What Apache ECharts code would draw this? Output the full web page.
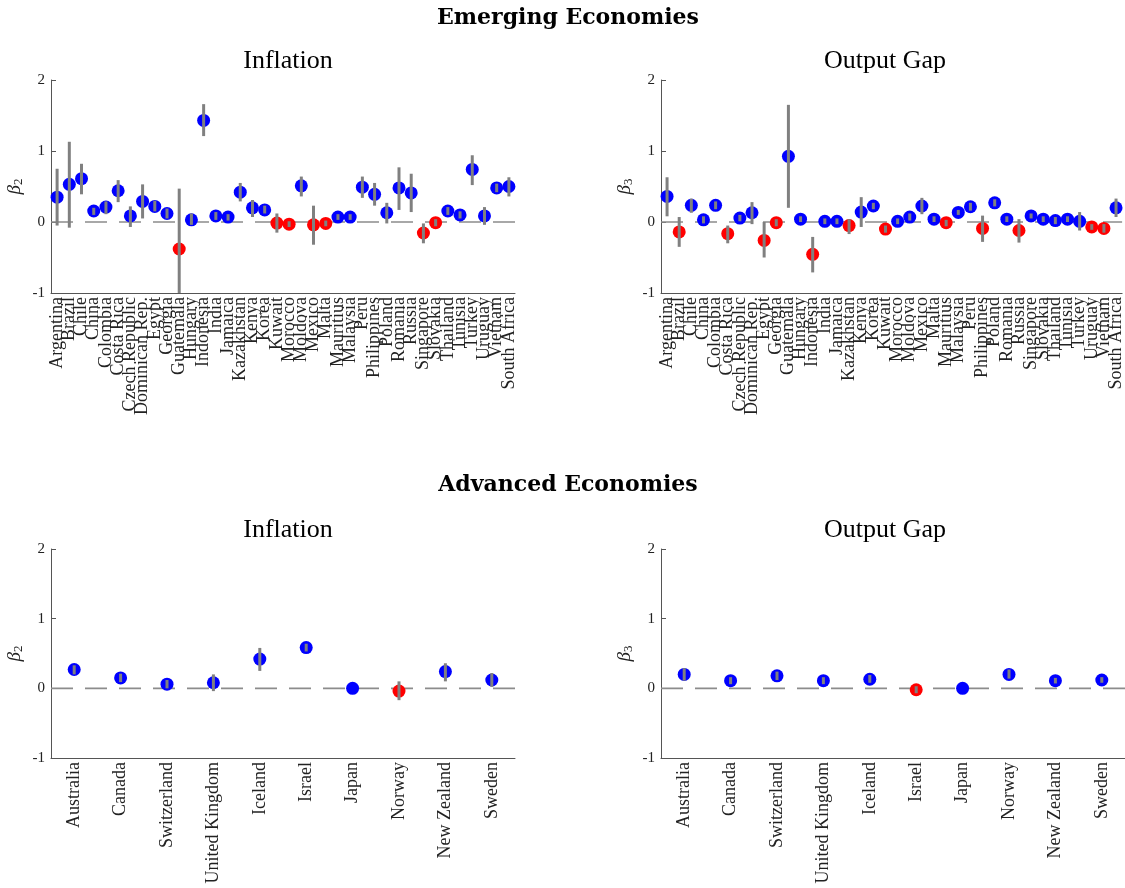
<!DOCTYPE html>
<html>
<head>
<meta charset="utf-8">
<script src="https://cdn.jsdelivr.net/npm/echarts@6/dist/echarts.min.js"></script>
<style>html,body{margin:0;padding:0;background:#fff;}#c{width:1125px;height:888px;}</style>
</head>
<body>
<div id="c"></div>
<script>
const emNames = ['Argentina','Brazil','Chile','China','Colombia','Costa Rica','Czech Republic','Dominican Rep.','Egypt','Georgia','Guatemala','Hungary','Indonesia','India','Jamaica','Kazakhstan','Kenya','Korea','Kuwait','Morocco','Moldova','Mexico','Malta','Mauritius','Malaysia','Peru','Philippines','Poland','Romania','Russia','Singapore','Slovakia','Thailand','Tunisia','Turkey','Uruguay','Vietnam','South Africa'];
const emInfl   = [0.35,0.53,0.61,0.155,0.21,0.44,0.085,0.29,0.22,0.12,-0.38,0.03,1.43,0.085,0.07,0.42,0.2,0.17,-0.015,-0.03,0.51,-0.04,-0.02,0.07,0.07,0.49,0.39,0.13,0.48,0.41,-0.155,-0.01,0.155,0.1,0.74,0.085,0.48,0.5];
const emInflLo = [-0.05,-0.08,0.39,0.1,0.11,0.28,-0.07,0.05,0.15,0.05,-1.0,-0.04,1.21,0.03,0.02,0.29,0.07,0.12,-0.15,-0.07,0.36,-0.32,-0.06,0.03,0.03,0.34,0.23,-0.02,0.17,0.14,-0.3,-0.06,0.1,0.05,0.52,-0.04,0.42,0.36];
const emInflHi = [0.75,1.13,0.82,0.2,0.29,0.59,0.22,0.53,0.3,0.19,0.47,0.12,1.66,0.14,0.11,0.55,0.31,0.23,0.12,0.01,0.64,0.23,0.02,0.11,0.11,0.64,0.55,0.27,0.77,0.68,-0.02,0.04,0.21,0.15,0.94,0.21,0.54,0.63];
const emGap    = [0.36,-0.14,0.235,0.03,0.235,-0.165,0.055,0.13,-0.26,-0.01,0.925,0.04,-0.455,0.01,0.01,-0.05,0.14,0.225,-0.1,0.01,0.07,0.225,0.04,-0.01,0.135,0.215,-0.09,0.27,0.04,-0.12,0.085,0.04,0.02,0.04,0.01,-0.07,-0.09,0.2];
const emGapLo  = [0.08,-0.35,0.13,-0.02,0.18,-0.3,0.01,-0.03,-0.5,-0.06,0.2,0.0,-0.71,-0.03,-0.03,-0.17,-0.07,0.18,-0.15,-0.03,0.02,0.11,0.0,-0.06,0.1,0.16,-0.28,0.22,0.0,-0.29,0.05,0.0,-0.03,0.0,-0.12,-0.11,-0.15,0.07];
const emGapHi  = [0.63,0.07,0.33,0.08,0.29,-0.05,0.1,0.28,0.0,0.04,1.65,0.08,-0.21,0.05,0.05,0.04,0.35,0.27,-0.05,0.05,0.12,0.34,0.08,0.03,0.17,0.27,0.09,0.32,0.08,0.04,0.12,0.08,0.07,0.08,0.14,-0.03,-0.03,0.33];

const aeNames  = ['Australia','Canada','Switzerland','United Kingdom','Iceland','Israel','Japan','Norway','New Zealand','Sweden'];
const aeInfl   = [0.27,0.15,0.06,0.08,0.42,0.585,0.0,-0.04,0.24,0.12];
const aeInflLo = [0.2,0.09,0.0,-0.04,0.25,0.53,0.0,-0.17,0.1,0.02];
const aeInflHi = [0.33,0.21,0.12,0.2,0.58,0.64,0.0,0.1,0.36,0.22];
const aeGap    = [0.2,0.11,0.18,0.11,0.13,-0.02,0.0,0.2,0.11,0.12];
const aeGapLo  = [0.11,0.06,0.12,0.06,0.08,-0.07,0.0,0.14,0.07,0.08];
const aeGapHi  = [0.29,0.16,0.24,0.16,0.19,0.03,0.0,0.27,0.15,0.16];

const yTicks = [-1, 0, 1, 2];

const FONT = 'Liberation Serif';
const chart = echarts.init(document.getElementById('c'), null, {renderer: 'canvas'});

const panels = [
  {names: emNames, v: emInfl, lo: emInflLo, hi: emInflHi, sub: '2', grid: {left: 51, top: 80, width: 464, height: 213}},
  {names: emNames, v: emGap,  lo: emGapLo,  hi: emGapHi,  sub: '3', grid: {left: 661, top: 80, width: 464, height: 213}},
  {names: aeNames, v: aeInfl, lo: aeInflLo, hi: aeInflHi, sub: '2', grid: {left: 51, top: 549, width: 464, height: 209}},
  {names: aeNames, v: aeGap,  lo: aeGapLo,  hi: aeGapHi,  sub: '3', grid: {left: 661, top: 549, width: 464, height: 209}}
];

const grids = [], xAxes = [], yAxes = [], series = [];
panels.forEach((p, i) => {
  grids.push(p.grid);
  xAxes.push({
    type: 'category', gridIndex: i, data: p.names, boundaryGap: true,
    axisLine: {onZero: false, lineStyle: {color: '#555', width: 1}},
    axisTick: {inside: true, alignWithLabel: true, length: 4, interval: 0, lineStyle: {color: '#555'}},
    axisLabel: {interval: 0, rotate: 90, margin: 4, fontFamily: FONT, fontSize: 18, color: '#222'},
    splitLine: {show: false}
  });
  yAxes.push({
    type: 'value', gridIndex: i, min: yTicks[0], max: yTicks[yTicks.length - 1], interval: 1,
    axisLine: {show: true, onZero: false, lineStyle: {color: '#555', width: 1}},
    axisTick: {show: true, inside: true, length: 5, lineStyle: {color: '#555'}},
    axisLabel: {fontFamily: FONT, fontSize: 15, color: '#222', margin: 6},
    splitLine: {show: false},
    name: '{b|β}{s|' + p.sub + '}', nameLocation: 'middle', nameRotate: 90, nameGap: 26,
    nameTextStyle: {rich: {
      b: {fontFamily: FONT, fontStyle: 'italic', fontSize: 19, color: '#222'},
      s: {fontFamily: FONT, fontSize: 13, color: '#222', verticalAlign: 'bottom', padding: [8, 0, 0, 0]}
    }}
  });
  // zero dashed line across the whole plot area
  series.push({
    type: 'custom', xAxisIndex: i, yAxisIndex: i, z: 1, silent: true,
    data: [[0, 0]],
    renderItem: function (params, api) {
      const cs = params.coordSys;
      const y = api.coord([0, api.value(1)])[1];
      return {type: 'line', shape: {x1: cs.x, y1: y, x2: cs.x + cs.width, y2: y},
        style: {stroke: '#8c8c8c', lineWidth: 1.6, lineDash: [22, 12]}};
    }
  });
  // markers
  series.push({
    type: 'scatter', xAxisIndex: i, yAxisIndex: i, z: 2, symbol: 'circle', symbolSize: 13,
    data: p.v.map((v, k) => ({value: [k, v], itemStyle: {color: v < 0 ? '#ff0000' : '#0000ff', opacity: 1}}))
  });
  // error bars (drawn over markers)
  series.push({
    type: 'custom', xAxisIndex: i, yAxisIndex: i, z: 3,
    data: p.v.map((v, k) => [k, p.lo[k], p.hi[k]]),
    renderItem: function (params, api) {
      const a = api.coord([api.value(0), api.value(1)]);
      const b = api.coord([api.value(0), api.value(2)]);
      return {type: 'line', shape: {x1: a[0], y1: a[1], x2: b[0], y2: b[1]},
        style: {stroke: '#808080', lineWidth: 3}};
    }
  });
});

const secStyle = {fontFamily: 'DejaVu Serif', fontWeight: 'bold', fontSize: 22, color: '#000'};
const subStyle = {fontFamily: FONT, fontWeight: 'normal', fontSize: 26, color: '#000'};
const titles = [
  {text: 'Emerging Economies', left: 563, top: 2, textAlign: 'center', textStyle: secStyle},
  {text: 'Inflation', left: 283, top: 43, textAlign: 'center', textStyle: subStyle},
  {text: 'Output Gap', left: 880, top: 43, textAlign: 'center', textStyle: subStyle},
  {text: 'Advanced Economies', left: 563, top: 469, textAlign: 'center', textStyle: secStyle},
  {text: 'Inflation', left: 283, top: 512, textAlign: 'center', textStyle: subStyle},
  {text: 'Output Gap', left: 880, top: 512, textAlign: 'center', textStyle: subStyle}
];

chart.setOption({
  backgroundColor: '#fff',
  animation: false,
  title: titles,
  grid: grids,
  xAxis: xAxes,
  yAxis: yAxes,
  series: series
});
</script>
</body>
</html>
